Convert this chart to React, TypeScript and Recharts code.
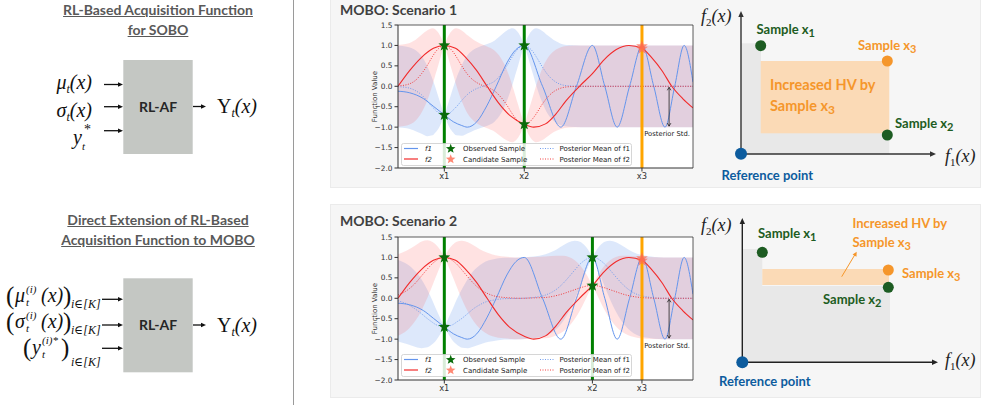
import React from "react";
import {
  ComposedChart,
  Area,
  Line,
  Scatter,
  XAxis,
  YAxis,
  ReferenceLine,
  CartesianGrid,
} from "recharts";

// x is on a 0..100 scale across the plot width
const f1X = [0, 4, 8.6, 12, 15.7, 18.8, 21.6, 23.5, 26.7, 30.1, 33.3, 36.9, 40, 42.8, 49, 55.2, 60.5, 65.9, 70.1, 74.3, 78.5, 82.8, 86.7, 90.5, 93.8, 97, 100];
const f1Y = [-0.12, -0.16, -0.3, -0.49, -0.7, -0.87, -0.96, -1, -0.87, -0.48, 0, 0.57, 0.9, 1, 0, -1, 0, 1, 0, -1, 0, 1, 0, -1, 0, 1, 0.1];

const f2X = [0, 4, 8, 12, 15.7, 19.5, 23, 26.5, 30.2, 34, 38, 42.8, 46, 50, 53.5, 57, 61.5, 65.9, 70, 74, 78.3, 82.7, 86, 89.5, 92.8, 96.5, 100];
const f2Y = [0, 0.39, 0.71, 0.93, 1, 0.93, 0.7, 0.4, 0, -0.4, -0.72, -0.93, -1, -0.92, -0.68, -0.35, 0, 0.31, 0.66, 0.9, 1, 0.93, 0.7, 0.38, 0, -0.3, -0.53];

// scenario 1 posterior
const s1X = [0, 3, 6, 8, 10, 11.7, 12.7, 13.7, 14.7, 15.7, 16.7, 17.7, 18.7, 19.7, 21.7, 23.7, 25.7, 28, 30, 32.8, 34.8, 36.8, 38.8, 39.8, 40.8, 41.8, 42.8, 43.8, 44.8, 45.8, 46.8, 48.8, 50.8, 52.8, 55, 58, 62, 100];
const s1Mean1 = [-0.01, -0.03, -0.11, -0.21, -0.37, -0.51, -0.58, -0.65, -0.69, -0.7, -0.69, -0.65, -0.58, -0.51, -0.34, -0.19, -0.09, -0.02, 0.03, 0.13, 0.28, 0.49, 0.73, 0.84, 0.92, 0.98, 1, 0.98, 0.92, 0.84, 0.73, 0.49, 0.28, 0.14, 0.05, 0.01, 0, 0];
const s1Mean2 = [0.01, 0.04, 0.15, 0.31, 0.52, 0.73, 0.84, 0.92, 0.98, 1, 0.98, 0.92, 0.84, 0.73, 0.49, 0.28, 0.14, 0.04, -0.02, -0.12, -0.26, -0.45, -0.68, -0.78, -0.86, -0.91, -0.93, -0.91, -0.86, -0.78, -0.68, -0.45, -0.26, -0.13, -0.05, -0.01, 0, 0];
const s1Std = [1, 1, 0.99, 0.95, 0.85, 0.69, 0.55, 0.39, 0.2, 0, 0.2, 0.39, 0.55, 0.69, 0.87, 0.96, 0.99, 1, 1, 0.99, 0.96, 0.87, 0.69, 0.55, 0.39, 0.2, 0, 0.2, 0.39, 0.55, 0.69, 0.87, 0.96, 0.99, 1, 1, 1, 1];

// scenario 2 posterior
const s2X = [0, 3, 6, 8, 10, 11.7, 12.7, 13.7, 14.7, 15.7, 16.7, 17.7, 18.7, 19.7, 21.7, 23.7, 25.7, 27.7, 29.7, 32, 36, 42, 46, 50, 53.9, 55.9, 57.9, 59.9, 61.9, 62.9, 63.9, 64.9, 65.9, 66.9, 67.9, 68.9, 69.9, 71.9, 73.9, 75.9, 77.9, 80, 84, 90, 100];
const s2Mean1 = [-0.06, -0.14, -0.27, -0.38, -0.5, -0.59, -0.64, -0.67, -0.69, -0.7, -0.69, -0.67, -0.64, -0.59, -0.49, -0.37, -0.25, -0.16, -0.09, -0.05, -0.01, 0, 0.02, 0.08, 0.23, 0.36, 0.52, 0.69, 0.85, 0.91, 0.96, 0.99, 1, 0.99, 0.96, 0.91, 0.85, 0.69, 0.52, 0.36, 0.23, 0.13, 0.04, 0, 0];
const s2Mean2 = [0.08, 0.19, 0.38, 0.55, 0.72, 0.85, 0.91, 0.96, 0.99, 1, 0.99, 0.96, 0.91, 0.85, 0.69, 0.52, 0.36, 0.23, 0.14, 0.07, 0.02, 0, 0.01, 0.02, 0.07, 0.11, 0.16, 0.21, 0.26, 0.28, 0.3, 0.31, 0.31, 0.31, 0.3, 0.28, 0.26, 0.21, 0.16, 0.11, 0.07, 0.04, 0.01, 0, 0];
const s2Std = [1, 0.98, 0.92, 0.84, 0.7, 0.53, 0.41, 0.28, 0.14, 0, 0.14, 0.28, 0.41, 0.53, 0.72, 0.85, 0.93, 0.97, 0.99, 1, 1, 1, 1, 1, 0.97, 0.93, 0.85, 0.72, 0.53, 0.41, 0.28, 0.14, 0, 0.14, 0.28, 0.41, 0.53, 0.72, 0.85, 0.93, 0.97, 0.99, 1, 1, 1];

// samples
const s1ObsX = [15.7, 15.7, 42.8, 42.8];
const s1ObsY = [-0.7, 1, 1, -0.93];
const s2ObsX = [15.7, 15.7, 65.9, 65.9];
const s2ObsY = [-0.7, 1, 1, 0.31];
const candX = [82.7, 82.7];
const candY = [0.98, 0.92];

const s1TickX = [15.7, 42.8, 82.7];
const s2TickX = [15.7, 65.9, 82.7];
const tickNames = ["x1", "x2", "x3"];
const yTicks = [-2, -1.5, -1, -0.5, 0, 0.5, 1, 1.5];
const stdArrowX = 91.9;

const BLUE = "#6495ED";
const RED = "#f22a2a";
const OBS = "#0a6b0a";
const CAND = "#ff6a50";
const GREEN = "#1d5c22";
const ORANGE = "#f5962b";
const REFBLUE = "#0d5c9e";
const SANS = "Lato, 'Open Sans', sans-serif";
const MPL = "'DejaVu Sans', sans-serif";
const SERIF = "'Liberation Serif', 'DejaVu Serif', serif";

const pts = (xs: number[], ys: number[]) => xs.map((x, i) => ({ x, y: ys[i] }));
const band = (xs: number[], m: number[], s: number[]) =>
  xs.map((x, i) => ({ x, y: [m[i] - s[i], m[i] + s[i]] }));

const starD = (cx: number, cy: number, r: number) => {
  let d = "";
  for (let i = 0; i < 10; i++) {
    const rr = i % 2 ? r * 0.42 : r;
    const a = -Math.PI / 2 + (i * Math.PI) / 5;
    d += (i ? "L" : "M") + (cx + rr * Math.cos(a)).toFixed(2) + "," + (cy + rr * Math.sin(a)).toFixed(2);
  }
  return d + "Z";
};

function StdArrow(p: any) {
  const { x1, y1, x2, y2 } = p;
  const h = 3;
  return (
    <g>
      <line x1={x1} y1={y1 + 1} x2={x2} y2={y2 - 1} stroke="#222" strokeWidth={0.8} />
      <path d={`M${x1 - h * 0.6},${y1 + h + 1}L${x1},${y1 + 1}L${x1 + h * 0.6},${y1 + h + 1}`} fill="none" stroke="#222" strokeWidth={0.8} />
      <path d={`M${x2 - h * 0.6},${y2 - h - 1}L${x2},${y2 - 1}L${x2 + h * 0.6},${y2 - h - 1}`} fill="none" stroke="#222" strokeWidth={0.8} />
      <text x={x2 - 2} y={y2 + 9} textAnchor="middle" fontSize={6.8} fontFamily={MPL} fill="#222">
        Posterior Std.
      </text>
    </g>
  );
}

function ScenarioChart(props: {
  bx: number[];
  m1: number[];
  m2: number[];
  sd: number[];
  obsX: number[];
  obsY: number[];
  tickX: number[];
}) {
  const { bx, m1, m2, sd, obsX, obsY, tickX } = props;
  const star = (color: string, op: number) => (p: any) => (
    <path d={starD(p.cx, p.cy, 6.2)} fill={color} fillOpacity={op} />
  );
  const vline = (x: number) => [
    { x, y: -2 },
    { x, y: 1.5 },
  ];
  return (
    <ComposedChart width={360} height={168} margin={{ top: 7, right: 7, bottom: 0, left: 0 }}>
      <CartesianGrid horizontal={false} vertical={false} fill="#fff" stroke="none" />
      <XAxis
        type="number"
        dataKey="x"
        domain={[0, 100]}
        allowDataOverflow
        ticks={tickX}
        interval={0}
        tickFormatter={(v: number, i: number) => tickNames[i]}
        height={18}
        tickSize={3.5}
        stroke="#333"
        tick={{ fontSize: 8.3, fill: "#333", fontFamily: MPL }}
      />
      <YAxis
        type="number"
        dataKey="y"
        domain={[-2, 1.5]}
        allowDataOverflow
        ticks={yTicks}
        interval={0}
        width={58}
        tickSize={3.5}
        stroke="#333"
        tickFormatter={(v: number) => v.toFixed(1).replace("-", "\u2212")}
        tick={{ fontSize: 7.4, fill: "#333", fontFamily: MPL }}
        label={{
          value: "Function Value",
          angle: -90,
          position: "insideLeft",
          offset: 35,
          style: { textAnchor: "middle", fontSize: 7, fill: "#333", fontFamily: MPL },
        }}
      />
      <Area data={band(bx, m1, sd)} dataKey="y" type="monotone" fill={BLUE} fillOpacity={0.22} stroke="none" isAnimationActive={false} />
      <Area data={band(bx, m2, sd)} dataKey="y" type="monotone" fill="#ff5555" fillOpacity={0.17} stroke="none" isAnimationActive={false} />
      <Line data={pts(f1X, f1Y)} dataKey="y" type="monotone" stroke={BLUE} strokeWidth={1} dot={false} isAnimationActive={false} />
      <Line data={pts(f2X, f2Y)} dataKey="y" type="monotone" stroke={RED} strokeWidth={1.1} dot={false} isAnimationActive={false} />
      <Line data={pts(bx, m1)} dataKey="y" type="monotone" stroke={BLUE} strokeWidth={0.9} strokeDasharray="1 1.5" dot={false} isAnimationActive={false} />
      <Line data={pts(bx, m2)} dataKey="y" type="monotone" stroke={RED} strokeWidth={0.9} strokeDasharray="1 1.5" dot={false} isAnimationActive={false} />
      <Line data={vline(obsX[0])} dataKey="y" type="linear" stroke="#008000" strokeWidth={3} dot={false} isAnimationActive={false} />
      <Line data={vline(obsX[2])} dataKey="y" type="linear" stroke="#008000" strokeWidth={3} dot={false} isAnimationActive={false} />
      <Line data={vline(candX[0])} dataKey="y" type="linear" stroke="#FFA500" strokeWidth={3} dot={false} isAnimationActive={false} />
      <Scatter data={pts(obsX, obsY)} dataKey="y" shape={star(OBS, 1)} isAnimationActive={false} />
      <Scatter data={pts(candX, candY)} dataKey="y" shape={star(CAND, 0.7)} isAnimationActive={false} />
      <ReferenceLine
        segment={[
          { x: stdArrowX, y: 0 },
          { x: stdArrowX, y: -1 },
        ]}
        stroke="#222"
        shape={StdArrow}
      />
      <ReferenceLine y={1.5} stroke="#333" strokeWidth={0.8} />
      <ReferenceLine x={100} stroke="#333" strokeWidth={0.8} />
    </ComposedChart>
  );
}

function ChartLegend({ left, top }: { left: number; top: number }) {
  const t = { fontSize: 7, fontFamily: MPL, fill: "#222" } as const;
  return (
    <svg style={{ position: "absolute", left, top }} width={232} height={24}>
      <rect x={0.5} y={0.5} width={230} height={22} rx={2} fill="#fff" fillOpacity={0.85} stroke="#ccc" strokeWidth={0.8} />
      <line x1={3} x2={17} y1={5.5} y2={5.5} stroke={BLUE} strokeWidth={1.2} />
      <line x1={3} x2={17} y1={16} y2={16} stroke={RED} strokeWidth={1.2} />
      <text x={24} y={8} {...t} fontStyle="italic">f1</text>
      <text x={24} y={18.5} {...t} fontStyle="italic">f2</text>
      <path d={starD(49.7, 5.8, 5)} fill={OBS} />
      <path d={starD(49.7, 16.3, 5)} fill={CAND} fillOpacity={0.8} />
      <text x={62} y={8} {...t}>Observed Sample</text>
      <text x={62} y={18.5} {...t}>Candidate Sample</text>
      <line x1={139} x2={154} y1={5.5} y2={5.5} stroke={BLUE} strokeWidth={0.9} strokeDasharray="1 1.5" />
      <line x1={139} x2={154} y1={16} y2={16} stroke={RED} strokeWidth={0.9} strokeDasharray="1 1.5" />
      <text x={158.5} y={8} {...t}>Posterior Mean of f1</text>
      <text x={158.5} y={18.5} {...t}>Posterior Mean of f2</text>
    </svg>
  );
}

function Head({ x, y, dir, color, size = 6 }: { x: number; y: number; dir: "up" | "right"; color: string; size?: number }) {
  const s = size;
  const d =
    dir === "up"
      ? `M${x},${y}L${x - s * 0.45},${y + s}L${x + s * 0.45},${y + s}Z`
      : `M${x},${y}L${x - s},${y - s * 0.45}L${x - s},${y + s * 0.45}Z`;
  return <path d={d} fill={color} />;
}

const lbl = (color: string, size: number) => ({
  fontFamily: SANS,
  fontWeight: 700,
  fontSize: size,
  fill: color,
});

function Sub({ children, dy = 3, size = 11 }: { children: React.ReactNode; dy?: number; size?: number }) {
  return (
    <tspan dy={dy} fontSize={size}>
      {children}
    </tspan>
  );
}

function FLabel({ x, y, n }: { x: number; y: number; n: string }) {
  return (
    <text x={x} y={y} fontFamily={SERIF} fontSize={18} fontStyle="italic" fill="#222">
      f<tspan dy={4} fontSize={11} fontStyle="normal">{n}</tspan>
      <tspan dy={-4}>(x)</tspan>
    </text>
  );
}

function Sketch1() {
  return (
    <svg style={{ position: "absolute", left: 690, top: 0 }} width={292} height={190}>
      <rect x={51} y={43.3} width={20} height={111} fill="#e8e8e8" />
      <rect x={51} y={133} width={148.3} height={21} fill="#e8e8e8" />
      <rect x={70.7} y={61} width={128.6} height={72.3} fill="#fbdab6" />
      <line x1={51} y1={154} x2={51} y2={16} stroke="#333" strokeWidth={1.4} />
      <Head x={51} y={11} dir="up" color="#333" />
      <line x1={51} y1={154} x2={240} y2={154} stroke="#333" strokeWidth={1.4} />
      <Head x={246} y={154} dir="right" color="#333" />
      <FLabel x={11} y={22} n="2" />
      <FLabel x={255} y={162} n="1" />
      <circle cx={70.7} cy={45.7} r={5.5} fill={GREEN} />
      <circle cx={197.3} cy={61} r={5.5} fill={ORANGE} />
      <circle cx={197.3} cy={135} r={5.5} fill={GREEN} />
      <circle cx={51} cy={153.7} r={6} fill={REFBLUE} />
      <text x={66.5} y={34} {...lbl(GREEN, 13)}>Sample x<Sub>1</Sub></text>
      <text x={168} y={50} {...lbl(ORANGE, 13)}>Sample x<Sub>3</Sub></text>
      <text x={80} y={90} {...lbl(ORANGE, 14.5)}>Increased HV by</text>
      <text x={80} y={111} {...lbl(ORANGE, 14.5)}>Sample x<Sub size={12}>3</Sub></text>
      <text x={205} y={128} {...lbl(GREEN, 13)}>Sample x<Sub>2</Sub></text>
      <text x={31.5} y={179.5} {...lbl(REFBLUE, 13)}>Reference point</text>
    </svg>
  );
}

function Sketch2() {
  return (
    <svg style={{ position: "absolute", left: 690, top: 200 }} width={292} height={200}>
      <rect x={52.3} y={49} width={20} height={113.3} fill="#e8e8e8" />
      <rect x={52.3} y={86} width={147.7} height={76.3} fill="#e8e8e8" />
      <rect x={72.3} y={69} width={126.7} height={16} fill="#fbdab6" />
      <line x1={52.3} y1={162.3} x2={52.3} y2={23} stroke="#222" strokeWidth={1.4} />
      <Head x={52.3} y={18} dir="up" color="#222" />
      <line x1={52.3} y1={162.3} x2={242} y2={162.3} stroke="#222" strokeWidth={1.4} />
      <Head x={248} y={162.3} dir="right" color="#222" />
      <FLabel x={11} y={31} n="2" />
      <FLabel x={255} y={166} n="1" />
      <circle cx={72.3} cy={52.3} r={5.5} fill={GREEN} />
      <circle cx={198.3} cy={70} r={5.5} fill={ORANGE} />
      <circle cx={198.3} cy={87.3} r={5.5} fill={GREEN} />
      <circle cx={52.3} cy={162.3} r={6} fill={REFBLUE} />
      <line x1={151.7} y1={76.7} x2={165} y2={54.5} stroke={ORANGE} strokeWidth={1} />
      <path d="M166.7,51.7L162.6,54.6L166.5,56.8Z" fill={ORANGE} />
      <text x={68} y={37.5} {...lbl(GREEN, 13)}>Sample x<Sub>1</Sub></text>
      <text x={162.5} y={28} {...lbl(ORANGE, 13)}>Increased HV by</text>
      <text x={162.5} y={47} {...lbl(ORANGE, 13)}>Sample x<Sub>3</Sub></text>
      <text x={212} y={78} {...lbl(ORANGE, 13)}>Sample x<Sub>3</Sub></text>
      <text x={133} y={104} {...lbl(GREEN, 13)}>Sample x<Sub>2</Sub></text>
      <text x={29} y={185.5} {...lbl(REFBLUE, 13)}>Reference point</text>
    </svg>
  );
}

const mathT = { fontFamily: SERIF, fontStyle: "italic", fill: "#111" } as const;

function InArrow({ x1, x2, y }: { x1: number; x2: number; y: number }) {
  return (
    <g>
      <line x1={x1} y1={y} x2={x2 - 4} y2={y} stroke="#111" strokeWidth={1.3} />
      <Head x={x2} y={y} dir="right" color="#111" size={5} />
    </g>
  );
}

function LeftDiagrams() {
  return (
    <svg style={{ position: "absolute", left: 0, top: 0 }} width={293} height={406}>
      {/* SOBO */}
      <rect x={123.3} y={60} width={69.4} height={94} fill="#c4c7c3" />
      <text x={158} y={112} textAnchor="middle" {...lbl("#262626", 14)}>RL-AF</text>
      <text x={92} y={89} textAnchor="end" {...mathT} fontSize={20}>
        μ<tspan dy={4} fontSize={12}>t</tspan>
        <tspan dy={-4}>(x)</tspan>
      </text>
      <text x={92} y={117} textAnchor="end" {...mathT} fontSize={20}>
        σ<tspan dy={4} fontSize={12}>t</tspan>
        <tspan dy={-4}>(x)</tspan>
      </text>
      <text x={73} y={144} {...mathT} fontSize={20}>y</text>
      <text x={84} y={134} {...mathT} fontSize={14} fontStyle="normal">*</text>
      <text x={82} y={150} {...mathT} fontSize={11}>t</text>
      <InArrow x1={104} x2={123} y={84.5} />
      <InArrow x1={104} x2={123} y={106.7} />
      <InArrow x1={104} x2={123} y={130.7} />
      <InArrow x1={193} x2={206} y={106.5} />
      <text x={217} y={113} {...mathT} fontSize={20}>
        <tspan fontStyle="normal">Υ</tspan>
        <tspan dy={4} fontSize={12}>t</tspan>
        <tspan dy={-4}>(x)</tspan>
      </text>

      {/* MOBO extension */}
      <rect x={123.3} y={278.3} width={69.4} height={94} fill="#c4c7c3" />
      <text x={158} y={330} textAnchor="middle" {...lbl("#262626", 14)}>RL-AF</text>
      {[
        { g: "μ", y: 302 },
        { g: "σ", y: 328 },
      ].map((r) => (
        <g key={r.g}>
          <text x={6} y={r.y + 2} {...mathT} fontStyle="normal" fontSize={25}>(</text>
          <text x={15} y={r.y} {...mathT} fontSize={20}>{r.g}</text>
          <text x={26} y={r.y - 9} {...mathT} fontSize={11}>(i)</text>
          <text x={26} y={r.y + 4} {...mathT} fontSize={11}>t</text>
          <text x={41} y={r.y} {...mathT} fontSize={20}>(x)</text>
          <text x={63} y={r.y + 2} {...mathT} fontStyle="normal" fontSize={25}>)</text>
          <text x={71} y={r.y + 6} {...mathT} fontSize={12}>i∈[K]</text>
        </g>
      ))}
      <text x={23} y={356} {...mathT} fontStyle="normal" fontSize={25}>(</text>
      <text x={32} y={354} {...mathT} fontSize={20}>y</text>
      <text x={42} y={344} {...mathT} fontSize={11}>(i)*</text>
      <text x={42} y={358} {...mathT} fontSize={11}>t</text>
      <text x={61} y={356} {...mathT} fontStyle="normal" fontSize={25}>)</text>
      <text x={71} y={366} {...mathT} fontSize={12}>i∈[K]</text>
      <InArrow x1={102} x2={123} y={299.3} />
      <InArrow x1={102} x2={123} y={325} />
      <InArrow x1={102} x2={123} y={348.3} />
      <InArrow x1={193} x2={206} y={325} />
      <text x={217} y={331.5} {...mathT} fontSize={20}>
        <tspan fontStyle="normal">Υ</tspan>
        <tspan dy={4} fontSize={12}>t</tspan>
        <tspan dy={-4}>(x)</tspan>
      </text>
    </svg>
  );
}

const titleStyle: React.CSSProperties = {
  position: "absolute",
  left: 0,
  width: 316,
  textAlign: "center",
  fontFamily: SANS,
  fontWeight: 700,
  fontSize: 14,
  lineHeight: "20px",
  color: "#595959",
  textDecoration: "underline",
};

const panelStyle: React.CSSProperties = {
  position: "absolute",
  left: 330,
  width: 651,
  background: "#f6f6f6",
  border: "1px solid #ebebeb",
  boxSizing: "border-box",
};

const panelTitle: React.CSSProperties = {
  position: "absolute",
  left: 340,
  fontFamily: SANS,
  fontWeight: 700,
  fontSize: 14,
  lineHeight: "19px",
  color: "#404040",
};

export default function App() {
  return (
    <div style={{ position: "absolute", left: 0, top: 0, width: 982, height: 406, background: "#fff", overflow: "hidden" }}>
      <div style={{ ...titleStyle, top: 0 }}>
        RL-Based Acquisition Function
        <br />
        for SOBO
      </div>
      <div style={{ ...titleStyle, top: 209.5 }}>
        Direct Extension of RL-Based
        <br />
        Acquisition Function to MOBO
      </div>
      <LeftDiagrams />
      <div style={{ position: "absolute", left: 292.5, top: 0, width: 1.5, height: 405, background: "#9a9a9a" }} />

      <div style={{ ...panelStyle, top: -1, height: 189 }} />
      <div style={{ ...panelStyle, top: 204, height: 194 }} />
      <div style={{ ...panelTitle, top: 0 }}>MOBO: Scenario 1</div>
      <div style={{ ...panelTitle, top: 211 }}>MOBO: Scenario 2</div>

      <div style={{ position: "absolute", left: 340, top: 18 }}>
        <ScenarioChart bx={s1X} m1={s1Mean1} m2={s1Mean2} sd={s1Std} obsX={s1ObsX} obsY={s1ObsY} tickX={s1TickX} />
      </div>
      <ChartLegend left={401} top={143} />
      <div style={{ position: "absolute", left: 340, top: 229.7 }}>
        <ScenarioChart bx={s2X} m1={s2Mean1} m2={s2Mean2} sd={s2Std} obsX={s2ObsX} obsY={s2ObsY} tickX={s2TickX} />
      </div>
      <ChartLegend left={401} top={354} />

      <Sketch1 />
      <Sketch2 />
    </div>
  );
}
